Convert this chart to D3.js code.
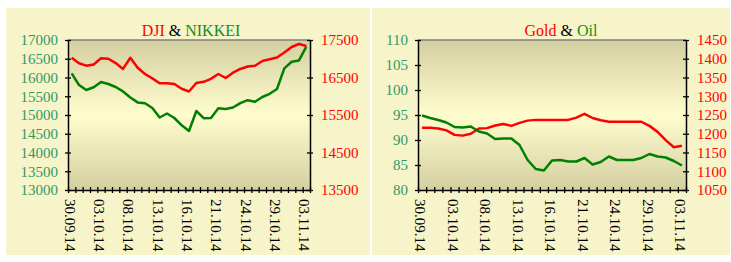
<!DOCTYPE html>
<html>
<head>
<meta charset="utf-8">
<script src="https://cdn.jsdelivr.net/npm/d3@7"></script>
<style>
  body { margin: 0; background: #fff; }
  svg { display: block; }
  svg text { font-family: "Liberation Serif", "DejaVu Serif", "Times New Roman", serif; }
</style>
</head>
<body>
<svg id="chart" width="731" height="262"></svg>
<script>
// x categories: 33 points, every 4th one gets a label
var xLabels = ["30.09.14", "03.10.14", "08.10.14", "13.10.14", "16.10.14",
               "21.10.14", "24.10.14", "29.10.14", "03.11.14"];
var labelStep = 4;

var dji = [17028, 16881, 16815, 16847, 17012, 16999, 16884, 16729, 17028, 16761,
           16593, 16476, 16348, 16345, 16327, 16199, 16127, 16353, 16385, 16465,
           16593, 16487, 16628, 16727, 16793, 16815, 16940, 16988, 17033, 17167,
           17313, 17393, 17340];
var nikkei = [16112, 15800, 15667, 15739, 15880, 15827, 15747, 15629, 15467, 15336,
              15312, 15187, 14933, 15040, 14920, 14725, 14573, 15107, 14915, 14920,
              15179, 15160, 15200, 15315, 15395, 15355, 15480, 15565, 15693, 16243,
              16421, 16456, 16821];
var gold = [1216, 1216, 1214, 1209, 1197, 1195, 1200, 1214, 1215, 1222,
            1226, 1221, 1229, 1235, 1237, 1237, 1237, 1237, 1237, 1243,
            1253, 1242, 1236, 1232, 1232, 1232, 1232, 1232, 1221, 1205,
            1183, 1164, 1168];
var oil = [94.9, 94.4, 94.0, 93.5, 92.6, 92.5, 92.7, 91.7, 91.3, 90.2,
           90.3, 90.3, 89.0, 86.0, 84.2, 83.9, 85.9, 86.0, 85.7, 85.7,
           86.4, 85.1, 85.6, 86.7, 86.0, 86.0, 86.0, 86.4, 87.2, 86.7,
           86.5, 85.8, 84.9];

var nikkeiTicks = d3.range(13000, 17001, 500);
var djiTicks = [13500, 14500, 15500, 16500, 17500];
var oilTicks = d3.range(80, 111, 5);
var goldTicks = d3.range(1050, 1451, 50);

var RED = "#ff0000", GREEN = "#008000", LEFTTXT = "#339966";
var FONT = "'Liberation Serif', 'DejaVu Serif', 'Times New Roman', serif";

var svg = d3.select("#chart");

// plot area gradient
var grad = svg.append("defs").append("linearGradient")
    .attr("id", "plotbg").attr("x1", 0).attr("y1", 0).attr("x2", 0).attr("y2", 1);
grad.append("stop").attr("offset", "0%").attr("stop-color", "#d3cfa1");
grad.append("stop").attr("offset", "50%").attr("stop-color", "#fffccd");
grad.append("stop").attr("offset", "100%").attr("stop-color", "#d3cfa1");

function panel(opt){
  var g = svg.append("g");
  g.append("rect")
    .attr("x", opt.px).attr("y", 8)
    .attr("width", opt.pw).attr("height", 247)
    .attr("fill", "#f6f4c8");

  var x0 = opt.x0, x1 = opt.x1, y0 = 40, y1 = 190;
  var n = opt.left.length;

  var xBand = d3.scaleBand().domain(d3.range(n)).range([x0, x1]);
  var xLin = d3.scaleLinear().domain([0, n]).range([x0, x1]);
  var yL = d3.scaleLinear().domain(opt.leftDomain).range([y1, y0]);
  var yR = d3.scaleLinear().domain(opt.rightDomain).range([y1, y0]);

  g.append("rect")
    .attr("x", x0).attr("y", y0)
    .attr("width", x1 - x0).attr("height", y1 - y0)
    .attr("fill", "url(#plotbg)");
  g.append("line")
    .attr("x1", x0).attr("x2", x1).attr("y1", y0).attr("y2", y0)
    .attr("stroke", "#808080").attr("stroke-width", 1.5);

  // left axis
  var gl = g.append("g").attr("transform", "translate(" + x0 + ",0)")
    .call(d3.axisLeft(yL).tickValues(opt.leftTicks).tickFormat(d3.format("d"))
      .tickSize(3).tickPadding(7).tickSizeOuter(0));
  gl.selectAll(".tick line").attr("x1", 3).attr("x2", -3);
  gl.selectAll("text").attr("fill", LEFTTXT);

  // right axis
  var gr = g.append("g").attr("transform", "translate(" + x1 + ",0)")
    .call(d3.axisRight(yR).tickValues(opt.rightTicks).tickFormat(d3.format("d"))
      .tickSize(3).tickPadding(8).tickSizeOuter(0));
  gr.selectAll(".tick line").attr("x1", -3).attr("x2", 3);
  gr.selectAll("text").attr("fill", RED);

  // bottom tick marks
  var gb = g.append("g").attr("transform", "translate(0," + y1 + ")")
    .call(d3.axisBottom(xLin).tickValues(d3.range(n + 1)).tickSize(3).tickSizeOuter(0).tickFormat(""));
  gb.selectAll(".tick line").attr("y1", -3).attr("y2", 3);

  // bottom labels
  var gx = g.append("g").attr("transform", "translate(0," + y1 + ")")
    .call(d3.axisBottom(xBand)
      .tickValues(d3.range(0, n, labelStep))
      .tickSize(0)
      .tickFormat(function(i){ return xLabels[i / labelStep]; }));
  gx.select(".domain").remove();
  gx.selectAll("text")
    .attr("transform", "translate(-2,0) rotate(90)")
    .attr("x", 9).attr("y", 0).attr("dy", "0.33em")
    .attr("text-anchor", "start")
    .attr("fill", "#000");

  g.selectAll(".tick text")
    .attr("font-family", null)
    .style("font-family", FONT)
    .style("font-size", "15px");
  g.selectAll(".domain").attr("stroke", "#000").attr("stroke-width", 1.5);
  g.selectAll(".tick line").attr("stroke", "#000").attr("stroke-width", 1.3);

  var lineL = d3.line()
    .x(function(d, i){ return xBand(i) + xBand.bandwidth() / 2; })
    .y(function(d){ return yL(d); });
  var lineR = d3.line()
    .x(function(d, i){ return xBand(i) + xBand.bandwidth() / 2; })
    .y(function(d){ return yR(d); });

  g.append("path").datum(opt.right)
    .attr("d", lineR).attr("fill", "none")
    .attr("stroke", RED).attr("stroke-width", 2.5).attr("stroke-linejoin", "round");
  g.append("path").datum(opt.left)
    .attr("d", lineL).attr("fill", "none")
    .attr("stroke", GREEN).attr("stroke-width", 2.5).attr("stroke-linejoin", "round");

  var t = g.append("text")
    .attr("x", opt.titleX).attr("y", 36)
    .attr("text-anchor", "middle")
    .style("font-family", FONT)
    .style("font-size", "16px");
  t.append("tspan").attr("fill", RED).text(opt.titleRed);
  t.append("tspan").attr("fill", "#000").text(" & ");
  t.append("tspan").attr("fill", "#1a8a1a").text(opt.titleGreen);
}

panel({
  px: 6, pw: 364, x0: 68, x1: 310,
  left: nikkei, right: dji,
  leftDomain: [13000, 17000], rightDomain: [13500, 17500],
  leftTicks: nikkeiTicks, rightTicks: djiTicks,
  titleX: 191, titleRed: "DJI", titleGreen: "NIKKEI"
});

panel({
  px: 372, pw: 358, x0: 418, x1: 686,
  left: oil, right: gold,
  leftDomain: [80, 110], rightDomain: [1050, 1450],
  leftTicks: oilTicks, rightTicks: goldTicks,
  titleX: 561, titleRed: "Gold", titleGreen: "Oil"
});
</script>
</body>
</html>
